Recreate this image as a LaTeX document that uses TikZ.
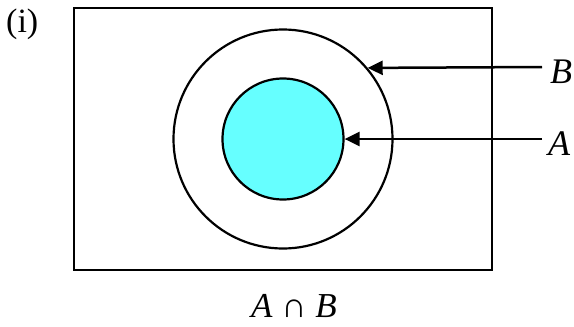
\documentclass[tikz,border=0pt]{standalone}
\usepackage{fontspec}
\setmainfont{Liberation Serif}
\usetikzlibrary{arrows.meta}
\definecolor{setcyan}{HTML}{66FFFF}
\begin{document}
\begin{tikzpicture}[x=1pt,y=-1pt,
  frame/.style={draw=black, line width=2.5pt, minimum width=418pt, minimum height=262pt, inner sep=0pt},
  setcirc/.style={circle, draw=black, line width=2.2pt, inner sep=0pt},
  pointer/.style={line width=2.5pt, -{Triangle[length=15pt,width=14pt]}},
  lbl/.style={font=\fontsize{36}{40}\selectfont\itshape, inner sep=0pt}]
\useasboundingbox (0,0) rectangle (574,327);
\node[frame] (U) at (283,139) {};
\node[setcirc, minimum size=219pt] (Bc) at (283,139) {};
\node[setcirc, fill=setcyan, minimum size=121pt] (Ac) at (283,139) {};
\node[font=\fontsize{34}{38}\selectfont, anchor=base west, inner sep=0pt] (num) at (6,32) {(i)};
\node[lbl, anchor=base west] (lB) at (550,83) {B};
\node[lbl, anchor=base west] (lA) at (548,155) {A};
\coordinate (eB) at (542,67);
\coordinate (eA) at (542,139);
\draw[pointer] (eB) -- (Bc.40.9);
\draw[pointer] (eA) -- (Ac.east);
\node[font=\fontsize{35}{38}\selectfont, anchor=base, inner sep=0pt] (cap) at (294,317) {\textit{A} ∩ \textit{B}};
\end{tikzpicture}
\end{document}
